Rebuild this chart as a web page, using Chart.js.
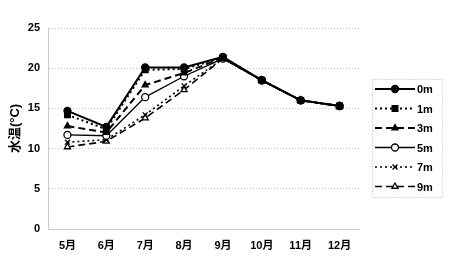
<!DOCTYPE html>
<html>
<head>
<meta charset="utf-8">
<script src="https://cdn.jsdelivr.net/npm/chart.js@4"></script>
<style>
  body { margin: 0; background: #fff; }
  #wrap { width: 450px; height: 272px; }
</style>
</head>
<body>
<div id="wrap"><canvas id="c" width="450" height="272"></canvas></div>
<script>
const months = ["5月", "6月", "7月", "8月", "9月", "10月", "11月", "12月"];
const depth_labels = ["0m", "1m", "3m", "5m", "7m", "9m"];

const temp_0m = [14.7, 12.7, 20.1, 20.1, 21.4, 18.5, 16.0, 15.3];
const temp_1m = [14.2, 12.4, 19.8, 19.9, 21.3, 18.5, 16.0, 15.3];
const temp_3m = [12.8, 12.0, 17.9, 19.4, 21.3, 18.5, 16.0, 15.3];
const temp_5m = [11.7, 11.6, 16.4, 19.0, 21.2, 18.5, 16.0, 15.3];
const temp_7m = [10.8, 11.1, 14.2, 17.8, 21.2, 18.5, 16.0, 15.3];
const temp_9m = [10.2, 10.9, 13.8, 17.3, 21.2, 18.5, 16.0, 15.3];

const y_ticks = [0, 5, 10, 15, 20, 25];

const font_family = "'Liberation Sans', 'Noto Sans CJK JP', sans-serif";

function make_set(label, data, style, dash, fill, width) {
    return {
        label: label,
        data: data,
        borderColor: "#000",
        backgroundColor: fill,
        borderWidth: width,
        borderDash: dash,
        pointStyle: style,
        pointRadius: style === "rect" ? 4 : 3.5,
        pointBorderColor: "#000",
        pointBackgroundColor: fill,
        pointBorderWidth: 1.3,
        tension: 0,
        fill: false
    };
}

const datasets = [
    make_set(depth_labels[0], temp_0m, "circle", [], "#000", 2),
    make_set(depth_labels[1], temp_1m, "rect", [2, 3], "#000", 2),
    make_set(depth_labels[2], temp_3m, "triangle", [7, 4], "#000", 2),
    make_set(depth_labels[3], temp_5m, "circle", [], "#fff", 1.3),
    make_set(depth_labels[4], temp_7m, "crossRot", [2, 3], "#000", 1.6),
    make_set(depth_labels[5], temp_9m, "triangle", [7, 4], "#fff", 1.6)
];

// legend with line + marker, drawn on the canvas
const legend_box = {
    id: "legend_box",
    afterDraw(chart) {
        const ctx = chart.ctx;
        const left = 372, top = 79, right = 442, bottom = 197;
        ctx.save();
        ctx.strokeStyle = "#bbb";
        ctx.lineWidth = 1;
        ctx.setLineDash([1, 2]);
        ctx.strokeRect(left + 0.5, top + 0.5, right - left, bottom - top);

        chart.data.datasets.forEach((ds, i) => {
            const y = 89 + i * 19.5;
            ctx.setLineDash(ds.borderDash);
            ctx.strokeStyle = "#000";
            ctx.lineWidth = ds.borderWidth;
            ctx.beginPath();
            ctx.moveTo(375, y);
            ctx.lineTo(415, y);
            ctx.stroke();
            ctx.setLineDash([]);
            ctx.fillStyle = ds.pointBackgroundColor;
            ctx.strokeStyle = "#000";
            ctx.lineWidth = ds.pointBorderWidth;
            Chart.helpers.drawPoint(ctx, {
                pointStyle: ds.pointStyle,
                radius: ds.pointRadius,
                borderWidth: ds.pointBorderWidth
            }, 395, y);
            ctx.fillStyle = "#000";
            ctx.font = "bold 11px " + font_family;
            ctx.textAlign = "left";
            ctx.textBaseline = "middle";
            ctx.fillText(ds.label, 417, y + 1);
        });
        ctx.restore();
    }
};

new Chart(document.getElementById("c"), {
    type: "line",
    data: { labels: months, datasets: datasets },
    options: {
        responsive: false,
        animation: false,
        layout: { padding: { top: 28, right: 91, left: 8, bottom: 0 } },
        plugins: {
            legend: { display: false },
            tooltip: { enabled: false }
        },
        scales: {
            x: {
                offset: true,
                grid: { display: false, drawTicks: false },
                border: { display: true, color: "#ccc", dash: [1, 2] },
                ticks: {
                    color: "#000",
                    font: { family: font_family, size: 11, weight: "bold" },
                    padding: 10,
                    maxRotation: 0
                },
                afterFit(scale) { scale.height = 43; }
            },
            y: {
                min: 0,
                max: 25,
                afterBuildTicks(scale) { scale.ticks = y_ticks.map(v => ({ value: v })); },
                grid: { color: "#c4c4c4", drawTicks: false },
                border: { display: true, color: "#ccc", dash: [1, 2] },
                ticks: {
                    color: "#000",
                    font: { family: font_family, size: 11, weight: "bold" },
                    padding: 8
                },
                title: {
                    display: true,
                    text: "水温(°C)",
                    color: "#000",
                    font: { family: font_family, size: 13, weight: "bold" },
                    padding: 0
                },
                afterFit(scale) { scale.width = 40; }
            }
        },
        elements: { line: { borderCapStyle: "butt" } }
    },
    plugins: [legend_box, {
        id: "dotted_grid",
        beforeDraw(chart) {
            chart.options.scales.y.grid.borderDash = [1, 3];
        }
    }]
});
</script>
</body>
</html>
